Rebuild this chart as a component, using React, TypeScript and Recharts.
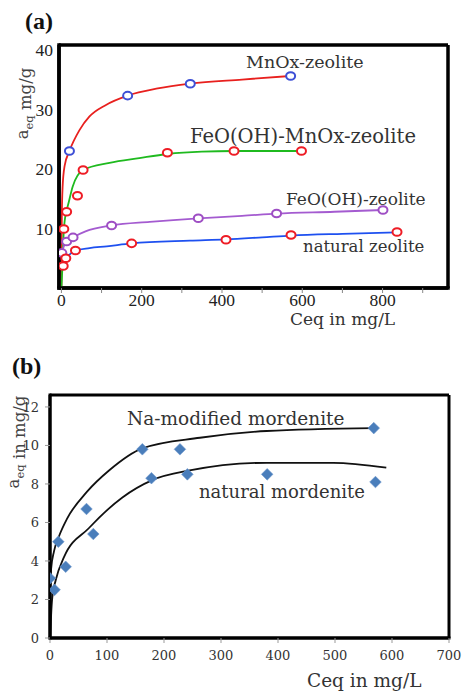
import React from 'react';
import { ComposedChart, Line, Scatter, XAxis, YAxis, CartesianGrid } from 'recharts';

// ---------- Chart (a) data ----------
const aXTicks = [0, 100, 200, 300, 400, 500, 600, 700, 800, 900];
const aYTicks = [10, 20, 30, 40];

const mnoxPoints = [[20, 23.0], [165, 32.3], [321, 34.3], [571, 35.6]];
const mnoxCurve = [[0, 0], [1, 12], [3, 17], [8, 20.5], [20, 23.0], [45, 26.5], [70, 28.8], [110, 30.7], [165, 32.3], [240, 33.5], [321, 34.3], [450, 35.0], [571, 35.6]];

const feMnPoints = [[6, 9.9], [13, 12.8], [40, 15.5], [54, 19.8], [264, 22.7], [430, 23.0], [598, 23.0]];
const feMnCurve = [[0, 0], [3, 4.2], [6, 9.7], [12, 12.8], [16, 13.8], [28, 17], [54, 19.8], [120, 21], [194, 21.8], [264, 22.5], [350, 22.9], [430, 23.0], [598, 23.0]];

const feoPoints = [[1, 5.9], [13, 7.8], [29, 8.5], [125, 10.5], [341, 11.7], [536, 12.5], [801, 13.1]];
const feoCurve = [[0, 4.7], [1, 5.9], [13, 7.8], [29, 8.5], [60, 9.5], [125, 10.5], [220, 11.1], [341, 11.7], [450, 12.1], [536, 12.5], [680, 12.8], [801, 13.1]];

const natZPoints = [[4.5, 3.7], [11, 5.0], [35, 6.3], [175, 7.5], [410, 8.1], [572, 8.9], [836, 9.4]];
const natZCurve = [[2, 3.0], [4.5, 3.7], [11, 5.0], [20, 5.6], [35, 6.3], [70, 6.7], [113, 7.0], [175, 7.5], [320, 7.95], [410, 8.15], [500, 8.5], [572, 8.8], [700, 9.1], [836, 9.35]];

// ---------- Chart (b) data ----------
const bXTicks = [0, 100, 200, 300, 400, 500, 600, 700];
const bYTicks = [0, 2, 4, 6, 8, 10, 12];

const naPoints = [[0, 3.1], [14.6, 5.0], [64, 6.7], [162, 9.8], [228, 9.8], [568, 10.9]];
const naCurve = [[0, 0], [0.5, 2.2], [2, 3.6], [7, 4.5], [16, 5.3], [30, 6.2], [65, 7.6], [103.5, 8.7], [162, 9.85], [263, 10.4], [380, 10.75], [568, 10.9]];

const natMPoints = [[8, 2.5], [27.5, 3.7], [76, 5.4], [178, 8.3], [241, 8.5], [381, 8.5], [571, 8.1]];
const natMCurve = [[0.5, 0], [2, 1.2], [4, 2.1], [10, 3.0], [24.5, 4.2], [68, 5.7], [127, 7.3], [179.5, 8.2], [245, 8.7], [380, 9.1], [497, 9.1], [590, 8.85]];

const toXY = (arr: number[][]) => arr.map(([x, y]) => ({ x, y }));

const SERIF = '"DejaVu Serif", serif';
const TIMES = '"Liberation Serif", serif';
const TXT = '#333';

const circle = (color: string) => (p: any) => (
  <ellipse cx={p.cx} cy={p.cy} rx={4.5} ry={3.8} fill="#fff" stroke={color} strokeWidth={2} />
);

const diamond = (p: any) => {
  const { cx, cy } = p;
  const r = 5.8;
  return (
    <polygon
      points={`${cx},${cy - r} ${cx + r},${cy} ${cx},${cy + r} ${cx - r},${cy}`}
      fill="#4A7EBB"
      stroke="#6d97cc"
      strokeWidth={0.6}
    />
  );
};

const A_X_DOMAIN: [number, number] = [-6, 963];
const A_Y_DOMAIN: [number, number] = [0, 40.8];
const B_X_DOMAIN: [number, number] = [0, 700];
const B_Y_DOMAIN: [number, number] = [0, 12.62];

const frameA = { stroke: '#000', strokeWidth: 3.5, strokeLinecap: 'square' as const };
const frameB = { stroke: '#000', strokeWidth: 3, strokeLinecap: 'square' as const };

// frame lines at the plot-area edges, placed by the chart's own layout
const edgeH = (arg: any) => {
  const o = arg.offset;
  return [o.top, o.top + o.height];
};
const edgeV = (arg: any) => {
  const o = arg.offset;
  return [o.left, o.left + o.width];
};

function ChartA() {
  return (
    <ComposedChart width={465} height={340} margin={{ top: 45, right: 17, bottom: 0, left: 0 }}>
      <CartesianGrid
        horizontalCoordinatesGenerator={edgeH}
        verticalCoordinatesGenerator={edgeV}
        stroke="#000"
        strokeWidth={3.5}
        strokeDasharray=""
      />
      <XAxis
        dataKey="x"
        type="number"
        domain={A_X_DOMAIN}
        allowDataOverflow
        ticks={aXTicks}
        interval={0}
        height={52}
        axisLine={frameA}
        tickLine={{ stroke: '#888' }}
        tickSize={5}
        tickMargin={1}
        tick={{ fontFamily: TIMES, fontSize: 17.5, fill: '#222' }}
        tickFormatter={(v: number) => (v % 200 === 0 ? String(v) : '')}
      />
      <YAxis
        dataKey="y"
        type="number"
        domain={A_Y_DOMAIN}
        allowDataOverflow
        ticks={aYTicks}
        interval={0}
        width={59}
        axisLine={frameA}
        tickLine={false}
        tickSize={4}
        tickMargin={2}
        tick={{ fontFamily: TIMES, fontSize: 17.5, fill: '#222' }}
      />
      <Line data={toXY(mnoxCurve)} dataKey="y" type="monotone" stroke="#E8201E" strokeWidth={1.8} dot={false} isAnimationActive={false} />
      <Line data={toXY(feMnCurve)} dataKey="y" type="monotone" stroke="#1FBA1F" strokeWidth={1.8} dot={false} isAnimationActive={false} />
      <Line data={toXY(feoCurve)} dataKey="y" type="monotone" stroke="#A45BD0" strokeWidth={1.8} dot={false} isAnimationActive={false} />
      <Line data={toXY(natZCurve)} dataKey="y" type="monotone" stroke="#1E50F0" strokeWidth={1.8} dot={false} isAnimationActive={false} />
      <Scatter data={toXY(mnoxPoints)} dataKey="y" shape={circle('#3D4FD6')} isAnimationActive={false} />
      <Scatter data={toXY(feMnPoints)} dataKey="y" shape={circle('#EE1C25')} isAnimationActive={false} />
      <Scatter data={toXY(feoPoints)} dataKey="y" shape={circle('#9E4EC4')} isAnimationActive={false} />
      <Scatter data={toXY(natZPoints)} dataKey="y" shape={circle('#EE1C25')} isAnimationActive={false} />
    </ComposedChart>
  );
}

function ChartB() {
  return (
    <ComposedChart width={465} height={351} margin={{ top: 55, right: 16, bottom: 0, left: 0 }}>
      <CartesianGrid
        horizontalCoordinatesGenerator={edgeH}
        verticalCoordinatesGenerator={edgeV}
        stroke="#000"
        strokeWidth={3}
        strokeDasharray=""
      />
      <XAxis
        dataKey="x"
        type="number"
        domain={B_X_DOMAIN}
        allowDataOverflow
        ticks={bXTicks}
        interval={0}
        height={53}
        axisLine={frameB}
        tickLine={{ stroke: '#999' }}
        tickSize={5}
        tickMargin={8}
        tick={{ fontFamily: SERIF, fontSize: 13, fill: TXT }}
      />
      <YAxis
        dataKey="y"
        type="number"
        domain={B_Y_DOMAIN}
        allowDataOverflow
        ticks={bYTicks}
        interval={0}
        width={50}
        axisLine={frameB}
        tickLine={{ stroke: '#999' }}
        tickSize={5}
        tickMargin={6}
        tick={{ fontFamily: SERIF, fontSize: 13, fill: TXT }}
      />
      <Line data={toXY(naCurve)} dataKey="y" type="monotone" stroke="#111" strokeWidth={1.8} dot={false} isAnimationActive={false} />
      <Line data={toXY(natMCurve)} dataKey="y" type="monotone" stroke="#111" strokeWidth={1.8} dot={false} isAnimationActive={false} />
      <Scatter data={toXY(naPoints)} dataKey="y" shape={diamond} isAnimationActive={false} />
      <Scatter data={toXY(natMPoints)} dataKey="y" shape={diamond} isAnimationActive={false} />
    </ComposedChart>
  );
}

export default function App() {
  return (
    <div style={{ position: 'absolute', left: 0, top: 0, width: 465, height: 691, background: '#fff', overflow: 'hidden' }}>
      <div style={{ position: 'absolute', left: 0, top: 0 }}>
        <ChartA />
      </div>
      <div style={{ position: 'absolute', left: 0, top: 340 }}>
        <ChartB />
      </div>
      <svg width={465} height={691} style={{ position: 'absolute', left: 0, top: 0, pointerEvents: 'none' }}>
        {/* Chart (a) texts */}
        <text x={25} y={29} fontFamily={TIMES} fontWeight="bold" fontSize={24} fill="#111">(a)</text>
        <text x={246} y={68} fontFamily={SERIF} fontSize={17.5} fill={TXT}>MnOx-zeolite</text>
        <text x={190} y={143} fontFamily={SERIF} fontSize={19.5} fill={TXT}>FeO(OH)-MnOx-zeolite</text>
        <text x={286} y={205} fontFamily={SERIF} fontSize={17} fill={TXT}>FeO(OH)-zeolite</text>
        <text x={303} y={252} fontFamily={SERIF} fontSize={16.5} fill={TXT}>natural zeolite</text>
        <text x={290} y={325} fontFamily={SERIF} fontSize={17} fill={TXT}>Ceq in mg/L</text>
        <text x={28} y={103.5} fontFamily={SERIF} fontSize={16.5} fill="#444" textAnchor="middle" transform="rotate(-90 28 103.5)">
          <tspan>a</tspan>
          <tspan fontSize={11.5} dy={4.5}>eq</tspan>
          <tspan dy={-1.5}> mg/g</tspan>
        </text>
        {/* Chart (b) texts */}
        <text x={12} y={374} fontFamily={TIMES} fontWeight="bold" fontSize={24} fill="#111">(b)</text>
        <text x={127} y={425} fontFamily={SERIF} fontSize={18.5} fill={TXT}>Na-modified mordenite</text>
        <text x={199} y={498} fontFamily={SERIF} fontSize={18} fill={TXT}>natural mordenite</text>
        <text x={307} y={686.5} fontFamily={SERIF} fontSize={18.5} fill={TXT}>Ceq in mg/L</text>
        <text x={19} y={442} fontFamily={SERIF} fontSize={16.5} fill="#444" textAnchor="middle" transform="rotate(-90 19 442)">
          <tspan>a</tspan>
          <tspan fontSize={11.5} dy={5}>eq</tspan>
          <tspan dy={1}> in mg/g</tspan>
        </text>
      </svg>
    </div>
  );
}
